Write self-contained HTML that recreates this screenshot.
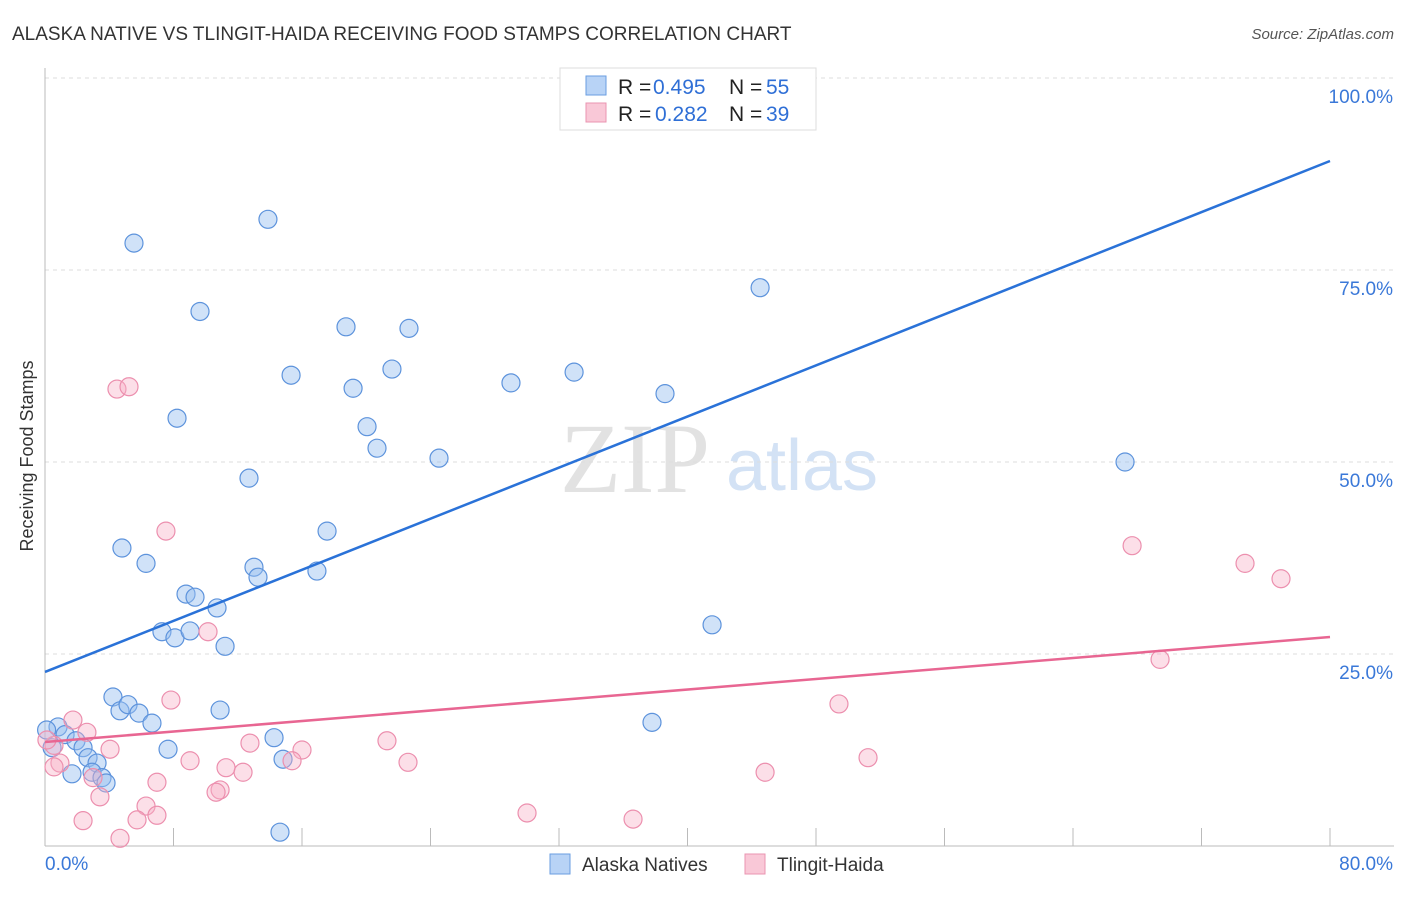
<!DOCTYPE html>
<html><head><meta charset="utf-8"><style>
body{margin:0;background:#fff;font-family:"Liberation Sans",sans-serif}
</style></head><body>
<svg id="c" width="1406" height="892" xmlns="http://www.w3.org/2000/svg" style="font-family:'Liberation Sans',sans-serif">
<text x="12" y="40" font-size="19" fill="#333">ALASKA NATIVE VS TLINGIT-HAIDA RECEIVING FOOD STAMPS CORRELATION CHART</text>
<text x="1394" y="39" font-size="15" fill="#555" font-style="italic" text-anchor="end">Source: ZipAtlas.com</text>
<text x="33" y="456" font-size="18" fill="#333" text-anchor="middle" transform="rotate(-90 33 456)">Receiving Food Stamps</text>
<g><text x="635" y="492" font-size="100" fill="#e2e2e2" text-anchor="middle" font-family="Liberation Serif">ZIP</text><text x="802" y="490" font-size="72" fill="#d3e2f5" text-anchor="middle">atlas</text></g>
<g id="grid"></g><g id="axes"></g><g id="pts"></g><g id="lines"></g>
<g>
<rect x="560" y="68" width="256" height="62" fill="#fff" stroke="#ddd"/>
<rect x="586" y="76" width="20" height="19" fill="#b8d3f6" stroke="#6a9ee0"/>
<rect x="586" y="103" width="20" height="19" fill="#f9c8d7" stroke="#ea94b0"/>
<text x="618" y="94" font-size="21" fill="#222">R =</text><text x="653" y="94" font-size="21" fill="#2f6fd6">0.495</text>
<text x="729" y="94" font-size="21" fill="#222">N =</text><text x="766" y="94" font-size="21" fill="#2f6fd6">55</text>
<text x="618" y="121" font-size="21" fill="#222">R =</text><text x="655" y="121" font-size="21" fill="#2f6fd6">0.282</text>
<text x="729" y="121" font-size="21" fill="#222">N =</text><text x="766" y="121" font-size="21" fill="#2f6fd6">39</text>
</g>
<g>
<rect x="550" y="854" width="20" height="20" fill="#b8d3f6" stroke="#6a9ee0"/>
<text x="582" y="871" font-size="19" fill="#333">Alaska Natives</text>
<rect x="745" y="854" width="20" height="20" fill="#f9c8d7" stroke="#ea94b0"/>
<text x="777" y="871" font-size="19" fill="#333">Tlingit-Haida</text>
</g>
</svg>
<script>
const yTicks=[25,50,75,100];
const yTickLabels=["25.0%","50.0%","75.0%","100.0%"];
const xTicks=[8,16,24,32,40,48,56,64,72,80];
const blueX=[5.54,13.88,9.65,18.74,22.66,15.32,19.18,21.6,29.01,32.94,38.6,44.52,8.22,20.05,20.67,24.53,12.7,67.24,4.79,6.29,17.56,13.01,13.26,16.93,8.78,9.34,10.71,7.28,8.09,9.03,11.21,41.53,4.23,4.67,5.17,5.85,6.66,10.9,7.66,37.79,14.26,14.82,0.81,1.25,1.93,2.37,2.68,3.24,1.68,2.93,3.55,3.8,14.63,0.1,0.44];
const blueY=[78.5,81.6,69.6,67.6,67.4,61.3,59.6,62.1,60.3,61.7,58.9,72.7,55.7,54.6,51.8,50.5,47.9,50.0,38.8,36.8,41.0,36.3,35.0,35.8,32.8,32.4,31.0,27.9,27.1,28.0,26.0,28.8,19.4,17.6,18.4,17.3,16.0,17.7,12.6,16.1,14.1,11.3,15.5,14.5,13.7,12.8,11.5,10.8,9.4,9.6,8.9,8.2,1.8,15.1,12.8];
const pinkX=[4.48,5.23,7.53,10.15,7.84,1.74,2.61,0.56,4.05,0.93,0.56,9.03,2.99,3.42,6.97,11.27,12.33,12.76,16.0,15.38,10.9,10.65,6.29,6.97,5.73,2.37,4.67,21.29,22.6,30.01,36.61,44.83,49.43,51.24,67.68,74.71,76.95,69.42,0.12];
const pinkY=[59.5,59.8,41.0,27.9,19.0,16.4,14.8,13.1,12.6,10.8,10.3,11.1,8.9,6.4,8.3,10.2,9.6,13.4,12.5,11.1,7.3,7.0,5.2,4.0,3.4,3.3,1.0,13.7,10.9,4.3,3.5,9.6,18.5,11.5,39.1,36.8,34.8,24.3,13.8];
const blueLine=[22.66,89.19];
const pinkLine=[13.54,27.21];
const NS="http://www.w3.org/2000/svg";
const X=v=>45+v/80*1285, Y=v=>846-v/100*768;
function mk(t,a,p){const e=document.createElementNS(NS,t);for(const k in a)e.setAttribute(k,a[k]);document.getElementById(p).appendChild(e);return e;}
yTicks.forEach((t,i)=>{
 const l=mk('line',{x1:45,x2:1394,y1:Y(t),y2:Y(t),stroke:'#ddd','stroke-dasharray':'4,4'},'grid');
 
 
 const tx=mk('text',{x:1393,y:Y(t)+25,'font-size':19,fill:'#3a78d8','text-anchor':'end'},'grid');
 tx.textContent=yTickLabels[i];
 
 
});
const ax=mk('line',{x1:45,x2:45,y1:68,y2:846,stroke:'#bbb'},'axes');


const bx=mk('line',{x1:45,x2:1394,y1:846,y2:846,stroke:'#bbb'},'axes');


xTicks.forEach(t=>{const l=mk('line',{x1:X(t),x2:X(t),y1:828,y2:846,stroke:'#bbb'},'axes');
 
 });
const x0=mk('text',{x:45,y:870,'font-size':19,fill:'#3a78d8'},'axes');x0.textContent='0.0%';


const x1=mk('text',{x:1393,y:870,'font-size':19,fill:'#3a78d8','text-anchor':'end'},'axes');x1.textContent='80.0%';


blueX.forEach((v,i)=>{const c=mk('circle',{cx:X(v),cy:Y(blueY[i]),r:9,fill:'rgba(150,190,240,0.45)',stroke:'#5d93dc','stroke-width':1.2},'pts');
 
 });
pinkX.forEach((v,i)=>{const c=mk('circle',{cx:X(v),cy:Y(pinkY[i]),r:9,fill:'rgba(247,175,198,0.4)',stroke:'#ec8fae','stroke-width':1.2},'pts');
 
 });
const bl=mk('line',{x1:X(0),y1:Y(blueLine[0]),x2:X(80),y2:Y(blueLine[1]),stroke:'#2a72d8','stroke-width':2.5},'lines');


const pl=mk('line',{x1:X(0),y1:Y(pinkLine[0]),x2:X(80),y2:Y(pinkLine[1]),stroke:'#e86692','stroke-width':2.5},'lines');


</script>
</body></html>
